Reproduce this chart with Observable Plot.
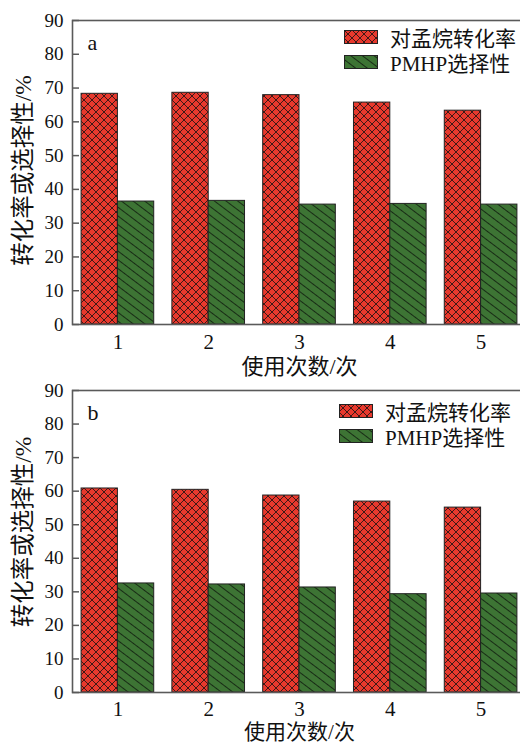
<!DOCTYPE html>
<html><head><meta charset="utf-8">
<script src="https://cdn.jsdelivr.net/npm/d3@7"></script>
<script src="https://cdn.jsdelivr.net/npm/@observablehq/plot@0.6"></script>
<style>
html,body{margin:0;padding:0;overflow:hidden;background:#fff;width:520px;height:744px;}
.panel{position:relative;width:526px;height:372px;}
.panel svg.plot{display:block;}
.legend{position:absolute;font-family:"Liberation Serif","Noto Sans CJK SC",serif;font-size:21px;color:#111;}
.legend .row{position:absolute;left:0;display:flex;align-items:center;height:14px;white-space:nowrap;}
.legend .row svg{display:block;margin-right:12px;}
</style>
</head><body>
<svg width="0" height="0" style="position:absolute">
<defs>
<pattern id="xhatch" patternUnits="userSpaceOnUse" width="8" height="8">
<rect width="8" height="8" fill="#e8392d"/>
<path d="M0,0L8,8M8,0L0,8" stroke="#2a1514" stroke-width="0.9"/>
</pattern>
<pattern id="dhatch" patternUnits="userSpaceOnUse" width="7" height="7" patternTransform="rotate(37)">
<rect width="7" height="7" fill="#3d7434"/>
<line x1="0" y1="3.5" x2="7" y2="3.5" stroke="#142212" stroke-width="0.9"/>
</pattern>
</defs></svg>
<div id="root"></div>
<script>
const cycles = [1, 2, 3, 4, 5];
const seriesNames = ["对孟烷转化率", "PMHP选择性"];
const convA = [68.3, 68.6, 67.9, 65.7, 63.3];
const selA = [36.4, 36.6, 35.5, 35.7, 35.5];
const convB = [60.8, 60.4, 58.7, 56.9, 55.1];
const selB = [32.5, 32.2, 31.3, 29.3, 29.5];
const yTicks = [0, 10, 20, 30, 40, 50, 60, 70, 80, 90];
const panelLabels = ["a", "b"];
const xTitle = "使用次数/次";
const yTitle = "转化率或选择性/%";
const patterns = ["url(#xhatch)", "url(#dhatch)"];

const font = "'Liberation Serif','Noto Sans CJK SC',serif";

function panel(conv, sel, label, m) {
  const rows = [];
  cycles.forEach((c, i) => {
    rows.push({cycle: c, s: 0, series: seriesNames[0], value: conv[i]});
    rows.push({cycle: c, s: 1, series: seriesNames[1], value: sel[i]});
  });
  const plot = Plot.plot({
    width: 526, height: 372,
    marginLeft: 72, marginRight: 0, marginTop: m.top, marginBottom: m.bottom,
    style: {fontFamily: font, fontSize: "19px", color: "#111", background: "transparent", overflow: "visible"},
    x: {type: "linear", domain: [0.5, 5.5]},
    y: {domain: [0, 90]},
    color: {type: "ordinal", domain: seriesNames, range: patterns},
    marks: [
      Plot.rectY(rows, {
        x1: d => d.cycle - 0.4 + 0.4 * d.s,
        x2: d => d.cycle + 0.4 * d.s,
        y: "value", fill: "series", stroke: "#222", strokeWidth: 1
      }),
      Plot.frame({stroke: "#5a5a5a", strokeWidth: 1.6}),
      Plot.axisY({ticks: yTicks, tickSize: -7, tickPadding: 16, stroke: "#5a5a5a", strokeWidth: 1.5, fontSize: 19, label: null}),
      Plot.axisX({ticks: cycles, tickSize: 0, tickPadding: m.tickPad, fontSize: 21, label: null, tickFormat: d => String(d)}),
      Plot.text([xTitle], {frameAnchor: "bottom", lineAnchor: "middle", dy: m.titleDy, fontSize: m.titleSize, fill: "#111"}),
      Plot.text([label], {frameAnchor: "top-left", dx: 15, dy: 14, fontSize: 22, fill: "#111"}),
      Plot.text([yTitle], {frameAnchor: "left", textAnchor: "middle", lineAnchor: "middle", rotate: -90, dx: -49, dy: m.yTitleDy, fontSize: 23.5, fill: "#111"})
    ]
  });
  plot.classList.add("plot");
  const div = document.createElement("div");
  div.className = "panel";
  div.appendChild(plot);
  const lg = document.createElement("div");
  lg.className = "legend";
  lg.style.left = m.legLeft + "px";
  lg.style.top = m.legTop + "px";
  seriesNames.forEach((name, i) => {
    const row = document.createElement("div");
    row.className = "row";
    row.style.top = (i * 24.5) + "px";
    row.innerHTML = `<svg width="34" height="14"><rect x="0.5" y="0.5" width="33" height="13" fill="${patterns[i]}" stroke="#222" stroke-width="1"/></svg><span>${name}</span>`;
    lg.appendChild(row);
  });
  div.appendChild(lg);
  return div;
}

const root = document.getElementById("root");
root.appendChild(panel(convA, selA, panelLabels[0], {top: 20, bottom: 48, titleDy: 42.5, titleSize: 22, tickPad: 10, yTitleDy: -2, legLeft: 344, legTop: 30}));
root.appendChild(panel(convB, selB, panelLabels[1], {top: 18, bottom: 52, titleDy: 40, titleSize: 21, tickPad: 9, yTitleDy: -9.5, legLeft: 339, legTop: 32}));
</script>
</body></html>
